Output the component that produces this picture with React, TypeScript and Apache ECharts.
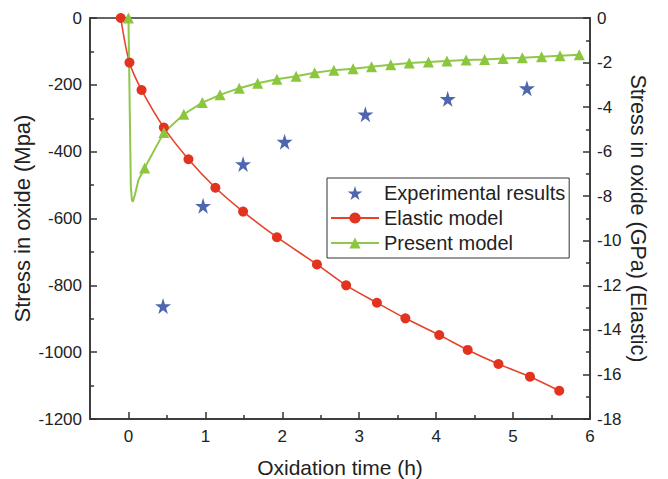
import React, { useEffect, useRef } from "react";
import * as echarts from "echarts";

// Experimental results (h, MPa)
const expTime = [0.45, 0.97, 1.49, 2.03, 3.08, 4.15, 5.18];
const expStress = [-862, -562, -437, -370, -288, -242, -210];

// Elastic model (h, GPa) – right axis
const elasticTime = [-0.1, 0.013, 0.17, 0.46, 0.78, 1.13, 1.49, 1.93, 2.45, 2.83, 3.23, 3.6, 4.04, 4.41, 4.81, 5.22, 5.6];
const elasticStress = [0, -2.0, -3.23, -4.92, -6.34, -7.62, -8.69, -9.84, -11.06, -12.0, -12.78, -13.48, -14.23, -14.9, -15.53, -16.1, -16.73];

// Present model (h, MPa); triangle markers on every point except the spike
const presentTime = [0, 0.031, 0.045, 0.057, 0.085, 0.13, 0.21, 0.46, 0.72, 0.96, 1.19, 1.44, 1.68, 1.93, 2.18, 2.42, 2.67, 2.92, 3.16, 3.41, 3.65, 3.9, 4.14, 4.39, 4.63, 4.87, 5.12, 5.37, 5.61, 5.86];
const presentStress = [0, -506, -545, -550, -528, -485, -449, -343, -288, -253, -230, -210, -195, -183, -174, -164, -156, -152, -146, -140, -135, -132, -129, -126, -124, -121, -119, -116, -113, -110];
const presentMarked = [true, false, false, false, false, false, true, true, true, true, true, true, true, true, true, true, true, true, true, true, true, true, true, true, true, true, true, true, true, true];

const xIntLabels = [0, 1, 2, 3, 4, 5, 6];
const xHalfTicks = [0.5, 1.5, 2.5, 3.5, 4.5, 5.5];

const STAR = "path://M50,0 L61,35 L98,35 L68,57 L79,91 L50,70 L21,91 L32,57 L2,35 L39,35 Z";
const FONT = "Liberation Sans, Arial, sans-serif";
const AXIS_COLOR = "#333";
const TEXT_COLOR = "#222";

export default function App() {
  const ref = useRef<HTMLDivElement>(null);
  useEffect(() => {
    if (!ref.current) return;
    const chart = echarts.init(ref.current, null, { renderer: "svg" });
    const axisLine = { show: true, onZero: false, lineStyle: { color: AXIS_COLOR, width: 1.5 } };
    const label = { color: TEXT_COLOR, fontSize: 17, fontFamily: FONT, formatter: (v: number) => String(v) };
    const nameStyle = (size: number) => ({ color: TEXT_COLOR, fontSize: size, fontFamily: FONT });
    chart.setOption({
      animation: false,
      backgroundColor: "#fff",
      textStyle: { fontFamily: FONT },
      grid: {
        left: 90, right: 78, top: 18, bottom: 60,
        containLabel: false, outerBoundsMode: "none",
        show: true, borderColor: AXIS_COLOR, borderWidth: 1.5,
      },
      legend: {
        orient: "vertical",
        left: 327,
        top: 178,
        itemWidth: 48,
        itemHeight: 14,
        itemGap: 5,
        padding: [5, 4, 5, 3],
        borderColor: AXIS_COLOR,
        borderWidth: 1,
        backgroundColor: "#fff",
        textStyle: { color: TEXT_COLOR, fontSize: 20, fontFamily: FONT, lineHeight: 20 },
        data: ["Experimental results", "Elastic model", "Present model"],
      },
      xAxis: [
        {
          type: "value",
          min: -0.5,
          max: 6,
          name: "Oxidation time (h)",
          nameLocation: "middle",
          nameGap: 38,
          nameMoveOverlap: false,
          nameTextStyle: nameStyle(21),
          axisLine,
          splitLine: { show: false },
          axisTick: { show: true, inside: true, length: 7, customValues: xIntLabels, lineStyle: { color: AXIS_COLOR, width: 1.5 } },
          axisLabel: { ...label, margin: 9, customValues: xIntLabels },
        },
        {
          type: "value",
          min: -0.5,
          max: 6,
          position: "bottom",
          axisLine: { show: false, onZero: false },
          splitLine: { show: false },
          axisTick: { show: true, inside: true, length: 4, customValues: xHalfTicks, lineStyle: { color: AXIS_COLOR, width: 1.5 } },
          axisLabel: { show: false },
        },
      ],
      yAxis: [
        {
          type: "value",
          min: -1200,
          max: 0,
          interval: 200,
          position: "left",
          name: "Stress in oxide (Mpa)",
          nameLocation: "middle",
          nameRotate: 90,
          nameGap: 57,
          nameMoveOverlap: false,
          nameTextStyle: nameStyle(22),
          axisLine,
          splitLine: { show: false },
          axisTick: { show: true, inside: true, length: 7, lineStyle: { color: AXIS_COLOR, width: 1.5 } },
          minorTick: { show: true, splitNumber: 2, length: 4, lineStyle: { color: AXIS_COLOR, width: 1.5 } },
          axisLabel: { ...label, margin: 8 },
        },
        {
          type: "value",
          min: -18,
          max: 0,
          interval: 2,
          position: "right",
          name: "Stress in oxide (GPa) (Elastic)",
          nameLocation: "middle",
          nameRotate: -90,
          nameGap: 37,
          nameMoveOverlap: false,
          nameTextStyle: nameStyle(21.5),
          axisLine,
          splitLine: { show: false },
          axisTick: { show: true, inside: true, length: 7, lineStyle: { color: AXIS_COLOR, width: 1.5 } },
          minorTick: { show: true, splitNumber: 2, length: 4, lineStyle: { color: AXIS_COLOR, width: 1.5 } },
          axisLabel: { ...label, margin: 7 },
        },
      ],
      series: [
        {
          name: "Experimental results",
          type: "scatter",
          xAxisIndex: 0,
          yAxisIndex: 0,
          symbol: STAR,
          symbolSize: 16,
          itemStyle: { color: "#22409c" },
          data: expTime.map((t, i) => [t, expStress[i]]),
        },
        {
          name: "Elastic model",
          type: "line",
          xAxisIndex: 0,
          yAxisIndex: 1,
          smooth: 0.3,
          symbol: "circle",
          symbolSize: 10,
          lineStyle: { color: "#e6432b", width: 1.6 },
          itemStyle: { color: "#e2331f" },
          data: elasticTime.map((t, i) => [t, elasticStress[i]]),
        },
        {
          name: "Present model",
          type: "line",
          xAxisIndex: 0,
          yAxisIndex: 0,
          symbol: "triangle",
          symbolSize: 11,
          lineStyle: { color: "#8fc84a", width: 2 },
          itemStyle: { color: "#8cc63f" },
          data: presentTime.map((t, i) =>
            presentMarked[i] ? { value: [t, presentStress[i]] } : { value: [t, presentStress[i]], symbol: "none" }
          ),
        },
      ],
    });
    return () => chart.dispose();
  }, []);
  return <div ref={ref} style={{ width: 668, height: 479, position: "absolute", left: 0, top: 0 }} />;
}
